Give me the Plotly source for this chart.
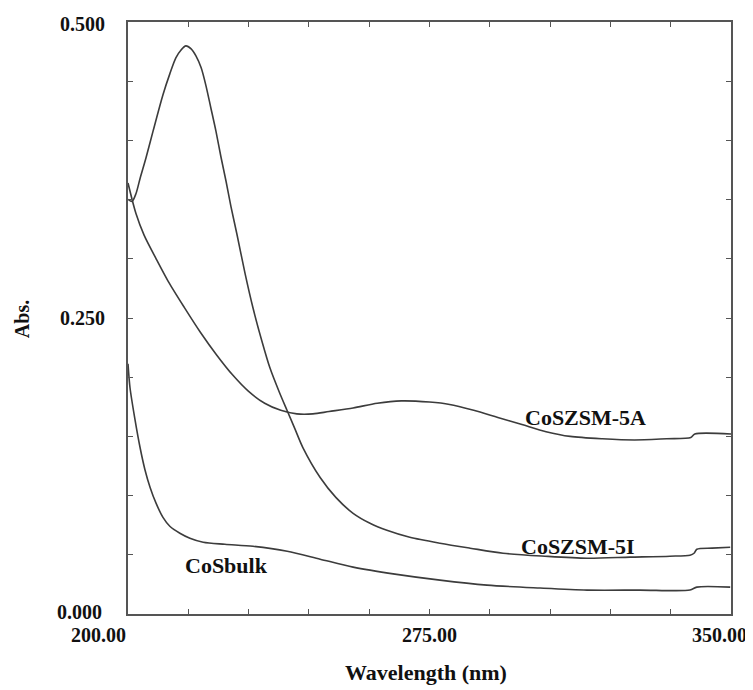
import plotly.graph_objects as go

# CoSZSM-5I
wl_5i = [200.0, 201.0, 202.0, 203.0, 204.5, 206.2, 208.7, 210.4, 211.9, 213.2, 214.4, 215.7,
         216.9, 218.2, 219.4, 220.6, 221.9, 223.1, 224.4, 225.6, 227.1, 229.1, 231.1, 233.3,
         235.3, 237.6, 239.6, 241.5, 243.5, 247.8, 251.7, 256.0, 260.2, 264.4, 270.1, 277.6,
         285.1, 293.3, 303.7, 314.2, 324.9, 334.8, 339.8, 340.8, 341.5, 345.3, 349.8]
abs_5i = [0.3502, 0.3485, 0.3552, 0.3678, 0.3855, 0.4074, 0.4386, 0.4562, 0.4697, 0.4764,
          0.4798, 0.4773, 0.4714, 0.4613, 0.4461, 0.4276, 0.4074, 0.3864, 0.3653, 0.3443,
          0.3207, 0.2879, 0.2584, 0.2306, 0.2079, 0.1877, 0.1717, 0.1566, 0.1406, 0.1153,
          0.0985, 0.0850, 0.0766, 0.0707, 0.0648, 0.0598, 0.0556, 0.0513, 0.0488, 0.0471,
          0.0480, 0.0488, 0.0497, 0.0513, 0.0547, 0.0556, 0.0564]

# CoSZSM-5A
wl_5a = [200.0, 202.0, 204.0, 207.0, 210.0, 214.0, 218.0, 222.0, 226.0, 230.0, 234.0, 238.0,
         242.0, 246.0, 250.0, 256.0, 262.0, 268.0, 275.0, 280.0, 286.0, 292.0, 298.0, 304.0,
         310.0, 318.0, 326.0, 334.0, 340.0, 341.0, 350.0]
abs_5a = [0.364, 0.338, 0.320, 0.300, 0.281, 0.259, 0.238, 0.219, 0.202, 0.188, 0.178, 0.172,
          0.169, 0.169, 0.171, 0.174, 0.178, 0.180, 0.179, 0.177, 0.172, 0.166, 0.160, 0.154,
          0.150, 0.148, 0.147, 0.148, 0.149, 0.152, 0.152]

# CoSbulk
wl_bulk = [200.0, 200.5, 201.7, 203.0, 204.2, 205.5, 207.0, 208.7, 210.4, 212.9, 215.4, 218.7,
           224.1, 231.1, 239.6, 247.8, 256.0, 266.4, 277.6, 289.3, 302.5, 314.2, 327.4, 339.8,
           341.5, 349.8]
abs_bulk = [0.2113, 0.1911, 0.1650, 0.1406, 0.1221, 0.1069, 0.0934, 0.0816, 0.0741, 0.0682,
            0.0640, 0.0606, 0.0589, 0.0572, 0.0530, 0.0463, 0.0396, 0.0337, 0.0286, 0.0244,
            0.0219, 0.0202, 0.0202, 0.0202, 0.0227, 0.0227]

series_names = ["CoSZSM-5I", "CoSZSM-5A", "CoSbulk"]
y_tick_vals = [0.0, 0.25, 0.5]
y_tick_text = ["0.000", "0.250", "0.500"]
x_tick_vals = [200, 275, 350]
x_tick_text = ["200.00", "275.00", "350.00"]

LINE = "#3c3c3c"
AX = "#555555"
FONT = "Liberation Serif"

fig = go.Figure()
for name, xs, ys in [(series_names[0], wl_5i, abs_5i),
                     (series_names[1], wl_5a, abs_5a),
                     (series_names[2], wl_bulk, abs_bulk)]:
    fig.add_trace(go.Scatter(x=xs, y=ys, mode="lines", name=name,
                             line=dict(color=LINE, width=1.6, shape="spline", smoothing=0.8),
                             showlegend=False))

ann = []
# y tick labels
for v, t in zip(y_tick_vals, y_tick_text):
    ann.append(dict(x=0, xref="paper", y=v, yref="y", text="<b>%s</b>" % t, showarrow=False,
                    xanchor="right", yanchor="middle", xshift=-21 if v > 0 else -24,
                    yshift=-2 if v > 0.4 else (2 if v == 0 else 0),
                    font=dict(family=FONT, size=20, color="#111")))
# x tick labels
x_anchor = {200: ("right", 0), 275: ("center", 0), 350: ("right", 18)}
for v, t in zip(x_tick_vals, x_tick_text):
    a, s = x_anchor[v]
    ann.append(dict(x=v, xref="x", y=0, yref="paper", text="<b>%s</b>" % t, showarrow=False,
                    xanchor=a, yanchor="middle", xshift=s, yshift=-21,
                    font=dict(family=FONT, size=20, color="#111")))
# curve labels
ann.append(dict(x=313.9, y=0.166, xref="x", yref="y", text="<b>CoSZSM-5A</b>", showarrow=False,
                xanchor="center", yanchor="middle",
                font=dict(family=FONT, size=22, color="#111")))
ann.append(dict(x=311.9, y=0.0572, xref="x", yref="y", text="<b>CoSZSM-5I</b>", showarrow=False,
                xanchor="center", yanchor="middle",
                font=dict(family=FONT, size=22, color="#111")))
ann.append(dict(x=224.4, y=0.0412, xref="x", yref="y", text="<b>CoSbulk</b>", showarrow=False,
                xanchor="center", yanchor="middle",
                font=dict(family=FONT, size=22, color="#111")))
# axis titles
ann.append(dict(x=-0.1758, xref="paper", y=0.498, yref="paper", text="<b>Abs.</b>", textangle=-90,
                xanchor="center", yanchor="middle",
                showarrow=False, font=dict(family=FONT, size=20, color="#111")))
ann.append(dict(x=(426 - 128) / 603, xref="paper", y=0, yref="paper",
                text="<b>Wavelength (nm)</b>", showarrow=False,
                xanchor="center", yanchor="bottom", yshift=-73,
                font=dict(family=FONT, size=22, color="#111")))

# page body has an 8px default margin, so the figure is 8px smaller to fit the window
fig.update_layout(
    width=745, height=682,
    margin=dict(l=120, r=22, t=12, b=76),
    paper_bgcolor="white", plot_bgcolor="white",
    annotations=ann,
    xaxis=dict(range=[200, 350], showgrid=False, zeroline=False, showline=True, mirror="ticks",
               linecolor=AX, linewidth=1.6, ticks="inside", ticklen=5, tickwidth=1.2,
               tickcolor=AX, tick0=200, dtick=15, showticklabels=False),
    yaxis=dict(range=[0, 0.5], showgrid=False, zeroline=False, showline=True, mirror="ticks",
               linecolor=AX, linewidth=1.6, ticks="inside", ticklen=5, tickwidth=1.2,
               tickcolor=AX, tick0=0, dtick=0.05, showticklabels=False),
)

fig.write_html("out.html")
